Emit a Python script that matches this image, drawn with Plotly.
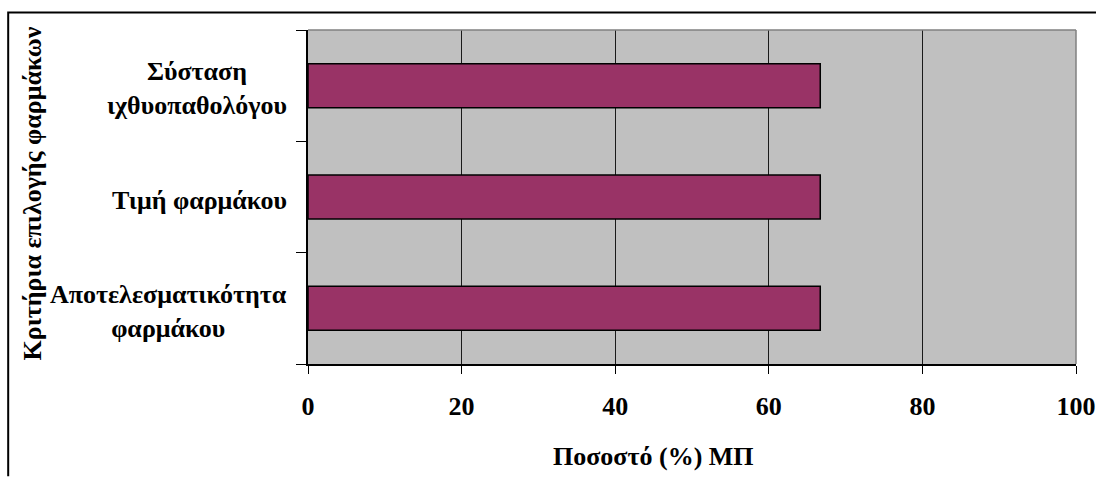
import plotly.graph_objects as go

# Criteria for choosing a drug (bottom to top) and share of respondents (%)
criteria = ["Αποτελεσματικότητα<br>φαρμάκου", "Τιμή φαρμάκου", "Σύσταση<br>ιχθυοπαθολόγου"]
shares = [66.7, 66.7, 66.7]
x_ticks = [0, 20, 40, 60, 80, 100]

x_title = "Ποσοστό (%) ΜΠ"
y_title = "Κριτήρια επιλογής φαρμάκων"

FONT = "Liberation Serif"
FS = 26
W, H = 1097, 477
L, R, T, B = 307.5, 21, 30, 112.5
pw, ph = W - L - R, H - T - B


def px_x(p):
    return (p - L) / pw


def px_y(p):
    return 1 - (p - T) / ph


def bold(size=FS):
    return dict(family=FONT, size=size, color="#000000", weight="bold")


fig = go.Figure(
    go.Bar(
        y=criteria,
        x=shares,
        orientation="h",
        marker=dict(color="#993366", line=dict(color="#000000", width=1.5)),
        hoverinfo="x+y",
    )
)

# category labels, centred lines, right-aligned next to the axis
for c in criteria:
    fig.add_annotation(
        x=px_x(288), xref="paper", xanchor="right",
        y=c, yref="y", yanchor="middle", yshift=-3,
        text=c, showarrow=False, align="center",
        font=bold(),
    )

fig.add_annotation(
    x=px_x(653), xref="paper", xanchor="center",
    y=px_y(457), yref="paper", yanchor="middle",
    text=x_title, showarrow=False, font=bold(),
)
fig.add_annotation(
    x=px_x(32), xref="paper", xanchor="center",
    y=px_y(194), yref="paper", yanchor="middle",
    text=y_title, textangle=-90, showarrow=False, font=bold(),
)

# plot-area top and right edges
fig.add_shape(type="line", xref="paper", yref="paper", x0=0, x1=1, y0=1, y1=1,
              line=dict(color="#808080", width=1.5))
fig.add_shape(type="line", xref="paper", yref="paper", x0=1, x1=1, y0=0, y1=1,
              line=dict(color="#808080", width=1.5))
# outer frame (left and top sides) as one open path
fx0, fy0, fx1, fy1 = px_x(7.5), px_y(477), px_x(1096), px_y(12.5)
fig.add_shape(type="path", xref="paper", yref="paper",
              path=f"M {fx0} {fy0} L {fx0} {fy1} L {fx1} {fy1}",
              line=dict(color="#000000", width=2))

fig.update_layout(
    template="none",
    width=W, height=H,
    margin=dict(l=L, r=R, t=T, b=B, pad=0, autoexpand=False),
    paper_bgcolor="#FFFFFF",
    plot_bgcolor="#C0C0C0",
    bargap=0.605,
    showlegend=False,
    font=dict(family=FONT, size=FS, color="#000000"),
    xaxis=dict(
        automargin=False,
        range=[0, 100],
        tickvals=x_ticks,
        ticktext=[str(v) for v in x_ticks],
        tickfont=bold(),
        ticks="outside", ticklen=8, tickcolor="#000000", tickwidth=1,
        ticklabelstandoff=10,
        showgrid=True, gridcolor="#1a1a1a", gridwidth=1,
        showline=True, linecolor="#000000", linewidth=1.5,
        zeroline=False,
    ),
    yaxis=dict(
        automargin=False,
        showticklabels=False,
        ticks="outside", ticklen=10, tickcolor="#000000", tickwidth=1,
        tickson="boundaries",
        showgrid=False,
        showline=True, linecolor="#000000", linewidth=1.5,
        zeroline=False,
    ),
)

fig.write_html("out.html", config={"displayModeBar": False})
